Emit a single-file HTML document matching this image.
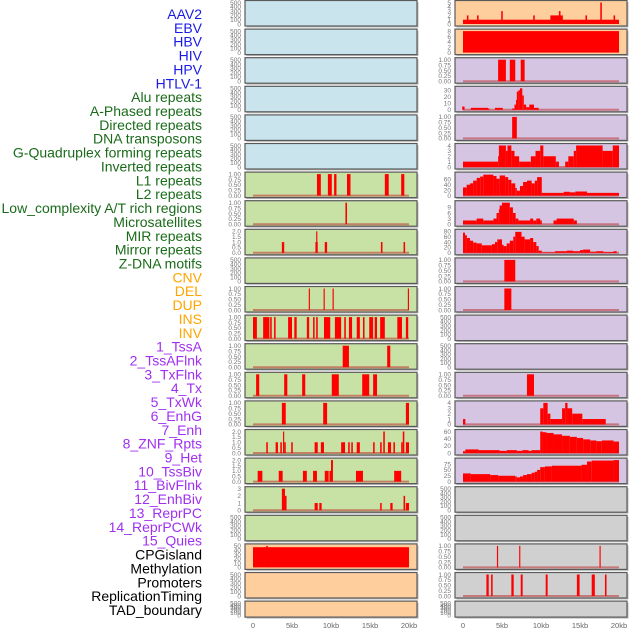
<!DOCTYPE html>
<html><head><meta charset="utf-8"><style>
html,body{margin:0;padding:0;background:#fff;}
svg{display:block;font-family:"Liberation Sans",sans-serif;}
</style></head><body>
<svg id="chart" width="630" height="630" viewBox="0 0 630 630" xmlns="http://www.w3.org/2000/svg"></svg>
<script>
// ---- data ----
const labelNames = ["AAV2","EBV","HBV","HIV","HPV","HTLV-1","Alu repeats","A-Phased repeats","Directed repeats","DNA transposons","G-Quadruplex forming repeats","Inverted repeats","L1 repeats","L2 repeats","Low_complexity A/T rich regions","Microsatellites","MIR repeats","Mirror repeats","Z-DNA motifs","CNV","DEL","DUP","INS","INV","1_TssA","2_TssAFlnk","3_TxFlnk","4_Tx","5_TxWk","6_EnhG","7_Enh","8_ZNF_Rpts","9_Het","10_TssBiv","11_BivFlnk","12_EnhBiv","13_ReprPC","14_ReprPCWk","15_Quies","CPGisland","Methylation","Promoters","ReplicationTiming","TAD_boundary"];
const labelGroups = [0,0,0,0,0,0,1,1,1,1,1,1,1,1,1,1,1,1,1,2,2,2,2,2,3,3,3,3,3,3,3,3,3,3,3,3,3,3,3,4,4,4,4,4];
const xTickLabels = ["0","5kb","10kb","15kb","20kb"];
const xTickValues = [0,5,10,15,20];
const ticksEmpty = ["0","100","200","300","400","500"];
const ticksBinary = ["0.00","0.25","0.50","0.75","1.00"];
const ticks2 = ["0.0","0.5","1.0","1.5","2.0"];
// left column segments [startKb, endKb, value]
const L_L1 = [[8.2,8.7,1],[9.6,10.1,1],[10.4,10.7,1],[12.05,12.5,1],[16.9,17.4,1],[19.0,19.4,1]];
const L_L2 = [[11.85,12.05,1]];
const L_MIR = [[3.7,4.0,1],[8.0,8.3,1],[8.1,8.25,2],[9.2,9.5,1],[16.4,16.6,1],[19.3,19.5,1]];
const L_R10 = [[7.15,7.3,1],[9.05,9.2,1],[10.2,10.35,1],[19.85,20.0,1]];
const L_R11 = [[0,0.5,1],[1.3,2.1,1],[2.2,2.4,1],[2.7,2.9,1],[4.5,5.0,1],[5.3,5.6,1],[6.9,7.2,1],[7.7,7.9,1],[8.1,8.3,1],[9.1,9.9,1],[10.5,11.3,1],[11.7,11.9,1],[12.3,12.7,1],[13.3,13.7,1],[14.1,14.3,1],[14.9,15.4,1],[15.6,15.9,1],[16.3,16.9,1],[18.5,19.1,1],[19.6,19.9,1]];
const L_R12 = [[11.5,12.3,1],[17.2,17.6,1]];
const L_R13 = [[0.4,0.8,1],[4.0,4.4,1],[6.3,6.7,1],[10.1,11.0,1],[14.0,14.9,1],[15.4,15.9,1]];
const L_R14 = [[3.7,4.2,1],[9.0,9.5,1],[19.6,20.0,1]];
const L_R15 = [[1.7,1.9,1],[2.9,3.2,1],[3.5,3.7,1],[3.85,4.0,2],[4.0,4.2,1],[4.9,5.1,1],[7.9,8.3,1],[8.7,9.1,1],[11.3,11.8,1],[12.2,12.4,1],[12.6,12.8,1],[13.3,13.7,1],[15.4,15.6,1],[16.3,16.5,1],[16.7,16.9,2],[17.3,17.7,1],[18.0,18.2,1],[19.0,19.2,1],[19.2,19.4,2],[19.6,20.0,1]];
const L_R16 = [[0.6,1.2,1],[3.3,3.8,1],[6.4,6.9,1],[7.7,8.2,1],[9.2,9.7,1],[9.8,10.0,1],[10.0,10.25,2],[13.2,14.1,1],[18.1,19.0,1]];
const L_R17 = [[3.7,4.1,3],[4.1,4.3,2],[7.9,8.3,1],[8.5,8.8,1],[16.3,16.5,1],[17.6,17.9,1],[19.3,19.5,2],[19.6,20.0,1]];
const L_CPG = [[0,20,47],[1.7,1.9,50]];
// right column
const R_AAV = [[0,20,1],[0.5,0.7,2],[1.8,2.0,2],[4.9,5.1,3],[9.0,9.2,2],[11.2,12.8,2],[12.3,12.5,3],[15.7,15.9,2],[17.6,17.8,5],[19.3,19.5,2]];
const R_EBV = [[0,20,8]];
const R_HIV = [[4.5,5.5,1],[6.0,6.7,1],[7.4,7.9,1]];
const R_ALU = [[-0.1,0.2,5],[1.0,3.2,3],[3.2,3.4,2],[4.1,5.1,3],[6.3,6.6,2],[6.6,6.8,8],[6.8,6.9,15],[6.9,7.1,28],[7.1,7.3,30],[7.3,7.6,33],[7.6,7.8,22],[7.8,8.1,8],[8.1,8.5,4],[8.5,9.1,8],[9.1,9.7,3]];
const R_DIR = [[6.3,6.9,1]];
const R_GQ = [[0,4.5,1],[4.5,4.6,2],[4.6,5.5,4],[5.5,5.7,3],[5.7,6.2,4],[6.2,6.6,3],[6.6,7.2,2],[7.2,8.7,1],[8.7,9.3,2],[9.3,9.9,3],[9.9,10.3,4],[10.3,11.9,2],[11.9,12.3,1],[13.1,13.5,1],[13.5,14.2,2],[14.2,14.5,3],[14.5,17.9,4],[17.9,19.2,3],[19.2,20.0,4]];
const R_L1 = [[0,0.47,30],[0.47,0.9,40],[0.9,1.3,45],[1.3,1.75,55],[1.75,2.2,65],[2.2,2.6,70],[2.6,3.9,77],[3.9,4.3,72],[4.3,4.7,62],[4.7,5.4,74],[5.4,5.8,68],[5.8,6.2,58],[6.2,6.7,45],[6.7,6.9,28],[6.9,7.3,18],[7.3,7.7,35],[7.7,8.2,50],[8.2,8.8,55],[8.8,9.2,45],[9.2,9.5,55],[9.5,10.1,68],[10.1,12.9,10],[12.9,13.7,14],[13.7,14.4,12],[14.4,15.9,15],[15.9,20.0,10]];
const R_LOW = [[0,1.75,2],[1.75,2.6,3],[2.6,3.9,2],[3.9,4.3,3],[4.3,4.6,6],[4.6,4.7,8],[4.7,5.0,10],[5.0,6.0,11.5],[6.0,6.4,9],[6.4,6.75,6],[6.75,7.1,3],[7.1,8.6,2],[8.6,9.0,3],[9.0,9.4,2],[9.4,9.9,3],[9.9,10.1,2],[11.6,12.0,2],[12.0,14.2,3],[14.2,14.6,2]];
const R_MIR = [[0,0.26,75],[0.26,0.5,65],[0.5,0.9,55],[0.9,1.3,45],[1.3,1.75,38],[1.75,2.4,35],[2.4,3.7,28],[3.7,4.1,32],[4.1,4.4,40],[4.4,5.0,50],[5.0,5.2,30],[5.2,5.6,25],[5.6,6.0,35],[6.0,6.45,45],[6.45,6.7,60],[6.7,7.5,78],[7.5,7.9,60],[7.9,8.6,50],[8.6,9.0,55],[9.0,9.4,40],[9.4,9.7,25],[9.7,10.1,8],[10.1,11.8,2],[11.8,13.3,6],[13.3,14.1,8],[14.1,15.0,6],[15.0,15.4,10],[15.4,16.3,12],[16.3,17.1,4],[17.1,18.0,6],[18.0,19.7,3],[19.3,19.7,6]];
const R_ZDNA = [[5.3,6.7,1]];
const R_DEL = [[5.3,6.2,1]];
const R_R13 = [[8.2,9.1,1]];
const R_R14 = [[0,0.3,1],[9.9,10.3,3],[10.3,10.85,4],[10.85,11.2,2],[11.2,12.7,1],[12.7,13.1,3],[13.1,13.4,4],[13.4,14.0,3],[14.0,15.3,2],[15.3,18.3,1]];
const R_R15 = [[0,0.3,5],[0.3,2.0,10],[2.0,4.7,8],[4.7,5.6,6],[5.6,6.9,8],[6.9,7.6,6],[7.6,8.4,8],[8.4,8.8,6],[8.8,9.9,8],[9.9,10.2,60],[10.2,10.7,58],[10.7,11.6,56],[11.6,12.7,52],[12.7,13.7,48],[13.7,14.6,45],[14.6,15.4,42],[15.4,16.3,38],[16.3,17.1,35],[17.1,17.8,33],[17.8,19.3,35],[19.3,20.0,32]];
const R_R16 = [[0,1.0,35],[1.0,3.5,32],[3.5,4.5,28],[4.5,6.7,25],[6.7,6.9,22],[6.9,7.3,18],[7.3,7.7,22],[7.7,8.2,28],[8.2,8.8,32],[8.8,9.2,38],[9.2,9.5,42],[9.5,9.9,50],[9.9,10.5,62],[10.5,11.4,65],[11.4,15.2,68],[15.2,15.9,72],[15.9,16.5,86],[16.5,19.3,90],[19.3,20.0,92]];
const R_R19 = [[4.35,4.5,1],[7.2,7.35,1],[17.5,17.65,1]];
const R_R20 = [[3.0,3.3,1],[3.6,3.8,1],[6.2,6.5,1],[7.4,7.65,1],[10.6,10.85,1],[14.6,14.95,1],[16.5,16.9,1],[18.2,18.4,1]];

const BG = {blue:"#c9e4ec",green:"#c8e1a5",orange:"#fecf9d",purple:"#d5c5e2",gray:"#d0d0d0"};
// panels: [bg, ymax, tickLabels, tickValues, segments, baseline]
const leftPanels = [
 ["blue",500,ticksEmpty,[0,100,200,300,400,500],[],false],
 ["blue",500,ticksEmpty,[0,100,200,300,400,500],[],false],
 ["blue",500,ticksEmpty,[0,100,200,300,400,500],[],false],
 ["blue",500,ticksEmpty,[0,100,200,300,400,500],[],false],
 ["blue",500,ticksEmpty,[0,100,200,300,400,500],[],false],
 ["blue",500,ticksEmpty,[0,100,200,300,400,500],[],false],
 ["green",1,ticksBinary,[0,0.25,0.5,0.75,1],L_L1,true],
 ["green",1,ticksBinary,[0,0.25,0.5,0.75,1],L_L2,true],
 ["green",2,ticks2,[0,0.5,1,1.5,2],L_MIR,true],
 ["green",500,ticksEmpty,[0,100,200,300,400,500],[],false],
 ["green",1,ticksBinary,[0,0.25,0.5,0.75,1],L_R10,true],
 ["green",1,ticksBinary,[0,0.25,0.5,0.75,1],L_R11,true],
 ["green",1,ticksBinary,[0,0.25,0.5,0.75,1],L_R12,true],
 ["green",1,ticksBinary,[0,0.25,0.5,0.75,1],L_R13,true],
 ["green",1,ticksBinary,[0,0.25,0.5,0.75,1],L_R14,true],
 ["green",2,ticks2,[0,0.5,1,1.5,2],L_R15,true],
 ["green",2,ticks2,[0,0.5,1,1.5,2],L_R16,true],
 ["green",3,["0","1","2","3"],[0,1,2,3],L_R17,true],
 ["green",500,ticksEmpty,[0,100,200,300,400,500],[],false],
 ["orange",50,["0","10","20","30","40","50"],[0,10,20,30,40,50],L_CPG,false],
 ["orange",500,ticksEmpty,[0,100,200,300,400,500],[],false],
 ["orange",500,ticksEmpty,[0,100,200,300,400,500],[],false]
];
const rightPanels = [
 ["orange",5,["0","1","2","3","4","5"],[0,1,2,3,4,5],R_AAV,false],
 ["orange",8,["0","2","4","6","8"],[0,2,4,6,8],R_EBV,false],
 ["purple",1,ticksBinary,[0,0.25,0.5,0.75,1],R_HIV,true],
 ["purple",33,["0","10","20","30"],[0,10,20,30],R_ALU,true],
 ["purple",1,ticksBinary,[0,0.25,0.5,0.75,1],R_DIR,true],
 ["purple",4,["0","1","2","3","4"],[0,1,2,3,4],R_GQ,true],
 ["purple",79,["0","20","40","60"],[0,20,40,60],R_L1,true],
 ["purple",11.5,["0","3","6","9"],[0,3,6,9],R_LOW,true],
 ["purple",80,["0","20","40","60","80"],[0,20,40,60,80],R_MIR,true],
 ["purple",1,ticksBinary,[0,0.25,0.5,0.75,1],R_ZDNA,true],
 ["purple",1,ticksBinary,[0,0.25,0.5,0.75,1],R_DEL,true],
 ["purple",500,ticksEmpty,[0,100,200,300,400,500],[],false],
 ["purple",500,ticksEmpty,[0,100,200,300,400,500],[],false],
 ["purple",1,ticksBinary,[0,0.25,0.5,0.75,1],R_R13,true],
 ["purple",4,["0","1","2","3","4"],[0,1,2,3,4],R_R14,true],
 ["purple",60,["0","20","40","60"],[0,20,40,60],R_R15,true],
 ["purple",92,["0","25","50","75"],[0,25,50,75],R_R16,true],
 ["gray",500,ticksEmpty,[0,100,200,300,400,500],[],false],
 ["gray",500,ticksEmpty,[0,100,200,300,400,500],[],false],
 ["gray",1,ticksBinary,[0,0.25,0.5,0.75,1],R_R19,true],
 ["gray",1,ticksBinary,[0,0.25,0.5,0.75,1],R_R20,true],
 ["gray",500,ticksEmpty,[0,100,200,300,400,500],[],false]
];
// ---- drawing ----
const NS = "http://www.w3.org/2000/svg";
const svg = document.getElementById("chart");
function mk(tag, attrs, parent){const e=document.createElementNS(NS,tag);for(const k in attrs)e.setAttribute(k,attrs[k]);(parent||svg).appendChild(e);return e;}
const labelColors = ["#1a1ae6","#1a6b1a","#ffa500","#a030f0","#000000"];
labelNames.forEach((t,i)=>{
  const el = mk("text",{x:202,y:19+i*13.86,"text-anchor":"end","font-size":"14",fill:labelColors[labelGroups[i]]});
  el.textContent = t;
  
  
});
function rowTop(i){return 0.5+i*28.6;}
function rowH(i){return i===21?16:25.5;}
function drawColumn(panels, px, pw, colName){
  const x0 = px+8, kbScale = 7.8;
  const xs = kb => x0 + kb*kbScale;
  panels.forEach((p,i)=>{
    const [bg,ymax,tl,tv,segs,base] = p;
    const top=rowTop(i), h=rowH(i), pad=2;
    const ys = v => top + h - pad - (v/ymax)*(h-2*pad);
    const g = mk("g",{});
    
    
    mk("rect",{x:px+1.5,y:top+1.5,width:pw,height:h,fill:"#bbbbbb"},g);
    const r = mk("rect",{x:px,y:top,width:pw,height:h,fill:BG[bg],stroke:"#5a5a5a","stroke-width":1.2},g);
    
    
    if(base){
      const bl = mk("line",{x1:xs(0),x2:xs(20),y1:ys(0),y2:ys(0),stroke:"rgba(190,50,50,0.55)","stroke-width":2},g);
      
      
    }
    segs.forEach(s=>{
      const y1=ys(s[2]), y0=ys(0);
      const b = mk("rect",{x:xs(s[0]),y:Math.min(y1,y0),width:Math.max(1,xs(s[1])-xs(s[0])),height:Math.abs(y0-y1),fill:"#ff0000"},g);
      
      
    });
    tv.forEach((v,k)=>{
      const t = mk("text",{x:px-4,y:ys(v)+2.3,"text-anchor":"end","font-size":"6.5",fill:"#777"},g);
      t.textContent = tl[k];
      
      
    });
  });
  xTickValues.forEach((v,k)=>{
    const t = mk("text",{x:xs(v),y:628,"text-anchor":"middle","font-size":"7.5",fill:"#666"});
    t.textContent = xTickLabels[k];
    
    
  });
}
drawColumn(leftPanels,245,172,"left");
drawColumn(rightPanels,455,172,"right");
</script>
</body></html>
